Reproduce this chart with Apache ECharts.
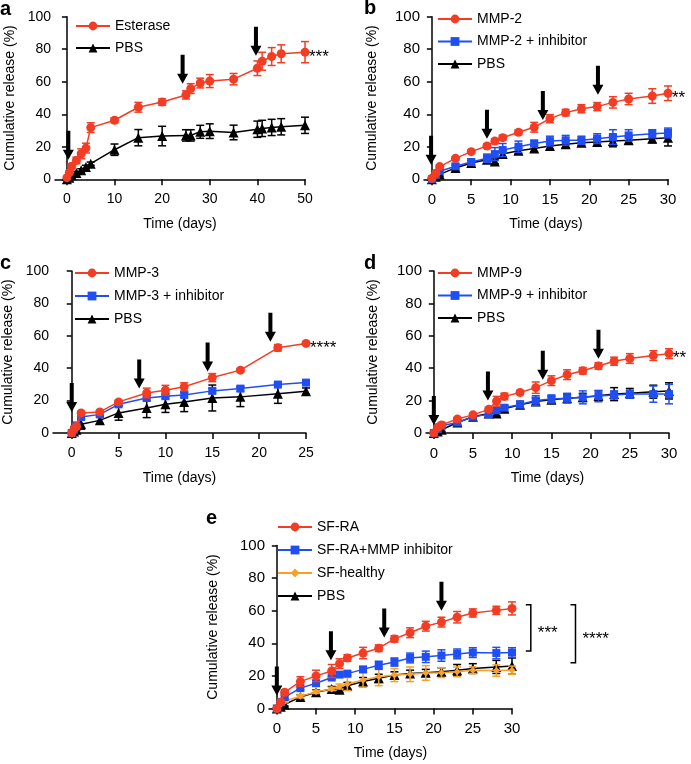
<!DOCTYPE html>
<html><head><meta charset="utf-8">
<script src="https://cdn.jsdelivr.net/npm/echarts@6/dist/echarts.min.js"></script>
<style>html,body{margin:0;padding:0;background:#fff}#c{width:691px;height:764px}</style>
</head><body><div id="c"></div><script>
// ---------- Panel a ----------
const timeA = [0, 0.5, 1, 2, 3, 4, 5, 10, 15, 20, 25, 26, 28, 30, 35, 40, 41, 43, 45, 50];
const esteraseA = [1, 4, 8, 11.6, 15.7, 19.2, 31.8, 36.3, 44.3, 47.5, 51.9, 55.8, 59.2, 60.4, 61.6, 68.3, 72.6, 75.5, 77.2, 78.2];
const esteraseErrA = [0.5, 1, 1.5, 2, 3, 3, 3, 1.5, 3, 2, 2.5, 3, 3, 4, 3.5, 4.5, 5.5, 5.5, 5.5, 6.5];
const pbsA = [0, 1, 2.5, 3.8, 5.5, 7.6, 9.6, 18.2, 25.6, 26.6, 27, 27, 29.2, 29.6, 28.8, 30.8, 31.3, 31.9, 32.3, 33.2];
const pbsErrA = [0.3, 0.5, 0.8, 1, 1, 1, 1, 3.5, 5, 6, 3.5, 3.5, 4, 4.5, 4.5, 5, 5, 5, 5, 5];
const arrowsA = [[0.3, 12], [24.3, 58.7], [39.7, 76]];
const ticksA = [0, 10, 20, 30, 40, 50];
const sigA = '***';

// ---------- Panel b ----------
const timeB = [0, 0.5, 1, 3, 5, 7, 8, 9, 11, 13, 15, 17, 19, 21, 23, 25, 28, 30];
const mmp2B = [0.6, 3.7, 7.8, 12.9, 17, 20.5, 23.5, 25.6, 28.9, 32, 37.3, 41, 43.4, 44.7, 47.3, 49.4, 51.2, 52.9];
const mmp2ErrB = [0.5, 0.8, 1, 1, 1, 1.2, 1.5, 1.5, 1.5, 3, 2.5, 2, 2.5, 2.5, 3.5, 3.5, 4.5, 4.5];
const mmp2InhB = [0, 2.5, 5, 8, 10.6, 13, 15.5, 18, 20, 22, 23.5, 24, 24, 25, 26, 27, 28, 28.5];
const mmp2InhErrB = [0.5, 1, 1, 1.5, 2, 2.5, 4, 4, 3.5, 2, 3, 3, 2.5, 3, 4.5, 3.5, 2.5, 3];
const pbsB = [0, 1.5, 3, 7, 10, 12, 11, 15.5, 17.5, 19, 20.5, 21.5, 22.5, 23, 23.5, 24, 25, 25.5];
const pbsErrB = [0.5, 1, 1, 1.5, 1.5, 1.5, 1.5, 2, 2, 2, 2, 2, 2, 2.5, 3.5, 2, 2.5, 5];
const arrowsB = [[-0.1, 9], [7, 25], [14.1, 36.5], [21.1, 52]];
const ticksB = [0, 5, 10, 15, 20, 25, 30];
const sigB = '**';

// ---------- Panel c ----------
const timeC = [0, 0.25, 0.5, 1, 3, 5, 8, 10, 12, 15, 18, 22, 25];
const mmp3C = [0, 2.7, 4, 12.4, 13, 19.2, 24.7, 26.4, 28.5, 34.2, 38.8, 52.6, 55.3];
const mmp3ErrC = [0.3, 0.5, 0.5, 1, 1, 1, 3, 3, 2.5, 2.5, 1, 2, 0.5];
const mmp3InhC = [0, 2, 4.7, 9.9, 11.5, 17.7, 21.6, 22.7, 23.5, 26, 27.4, 29.9, 31.1];
const mmp3InhErrC = [0.3, 0.5, 0.8, 1, 1, 1, 1.5, 1.5, 1.5, 1.5, 1.5, 1, 1];
const pbsC = [0, 1, 2, 5.4, 7.8, 12.4, 15.5, 17.7, 19.2, 21.6, 22.3, 24.3, 25.8];
const pbsErrC = [0.3, 0.5, 0.5, 3, 2, 4.5, 6, 5, 6, 8, 6, 6, 2];
const arrowsC = [[0, 13], [7.2, 27.4], [14.5, 38], [21.2, 56.3]];
const ticksC = [0, 5, 10, 15, 20, 25];
const sigC = '****';

// ---------- Panel d ----------
const timeD = [0, 0.5, 1, 3, 5, 7, 8, 9, 11, 13, 15, 17, 19, 21, 23, 25, 28, 30];
const mmp9D = [0, 3.5, 5, 8.6, 11.2, 14.6, 19.6, 22.6, 25, 28, 32.3, 36, 38.4, 41.4, 44.3, 46, 47.8, 49];
const mmp9ErrD = [0.3, 0.5, 1, 1, 1, 1, 3, 2, 1, 3.5, 3, 3, 2, 2, 2.5, 3, 3, 3];
const mmp9InhD = [0, 2.5, 4.5, 6.5, 10, 11.5, 14, 15.6, 17.6, 20, 21, 21.5, 22, 22.8, 23.5, 24, 24, 24];
const mmp9InhErrD = [0.3, 0.5, 1, 1.5, 1.5, 1.5, 1.5, 1.5, 2, 3, 2.5, 3, 4, 3.5, 2.5, 2.5, 5, 6];
const pbsD = [0, 1, 2, 6.5, 10, 12, 12, 15, 17.5, 19.5, 20.5, 21.5, 22, 23, 24, 24.5, 25.5, 26];
const pbsErrD = [0.3, 0.5, 1, 1.5, 1.5, 1.5, 1.5, 2, 2, 2, 2, 2.5, 2.5, 3, 4, 3, 4, 5];
const arrowsD = [[0, 5], [6.9, 20], [13.9, 32.9], [21, 45.8]];
const ticksD = [0, 5, 10, 15, 20, 25, 30];
const sigD = '**';

// ---------- Panel e ----------
const timeE = [0, 0.5, 1, 3, 5, 7, 8, 9, 11, 13, 15, 17, 19, 21, 23, 25, 28, 30];
const sfRaE = [0, 4, 10, 16.5, 20, 23, 27.5, 31, 34, 37, 42.7, 46.5, 50.5, 53, 56, 58.6, 60.2, 61.4];
const sfRaErrE = [0.3, 1, 1.5, 3, 3.5, 4, 3, 2, 3.5, 2, 2, 3, 3, 3, 3.5, 2.5, 2.5, 4];
const sfRaInhE = [0, 4, 7, 12.5, 15.5, 19, 20.8, 21.4, 24, 26.5, 28.5, 31, 31.7, 32.5, 33.5, 34.3, 34, 34.3];
const sfRaInhErrE = [0.3, 0.5, 1, 1, 1, 1, 1.2, 1.2, 1.5, 2.5, 2.5, 3, 3.5, 3.5, 3, 3, 3.5, 3];
const sfHealthyE = [0, 2.5, 4.5, 7.5, 10.2, 12, 13.5, 15, 17.5, 19.5, 20.5, 21, 21.8, 22, 22.5, 23.5, 23.3, 23.5];
const sfHealthyErrE = [0.3, 0.5, 1, 1, 1, 1, 1.5, 4, 4.5, 5.5, 4, 4.5, 4.5, 3, 3, 2, 3.5, 2.5];
const pbsE = [0, 1, 2.5, 7, 10, 12, 11.5, 14, 16.5, 18.5, 20.5, 21.5, 22, 22.5, 23.5, 24.5, 25.5, 26];
const pbsErrE = [0.3, 0.5, 1, 1.5, 1.5, 1.5, 1.5, 2, 2.5, 2.5, 2, 2, 2, 2.5, 3.5, 3, 4, 5];
const arrowsE = [[0, 8], [6.9, 29.6], [13.7, 43.5], [21, 60]];
const ticksE = [0, 5, 10, 15, 20, 25, 30];
const bracketsE = [[32.4, 63.6, 35.2], [38.1, 63.6, 28]];
const bracketSigE = ['***', '****'];

// ---------- styling ----------
const FONT = 'Liberation Sans, Arial, Helvetica, sans-serif';
const RED = '#f23d24', BLUE = '#1f4ef2', ORANGE = '#f7a12a', BLACK = '#000000';

const grids = [
  {left: 55, top: 16.7, width: 250, height: 162.6},
  {left: 424, top: 16.7, width: 244, height: 162.6},
  {left: 53, top: 271, width: 253, height: 162},
  {left: 426, top: 271, width: 243, height: 162},
  {left: 269, top: 545.5, width: 243, height: 163}
];
const xMins = [-2.5, -1, -2, -1, -1];
const xMaxs = [50, 30, 25, 30, 30];
const xTicks = [ticksA, ticksB, ticksC, ticksD, ticksE];
const yNameGaps = [38, 45, 38, 46, 49];
const labelSizes = [14, 15, 14, 15, 15];

const xAxes = grids.map((g, i) => {
  const dataCenterShift = ((xMins[i] + xMaxs[i]) / 2 - xMins[i]) / (xMaxs[i] - xMins[i]) * g.width - g.width / 2;
  return {
    type: 'value', gridIndex: i, min: xMins[i], max: xMaxs[i],
    axisLine: {show: true, onZero: false, lineStyle: {color: '#000', width: 1.5}},
    axisTick: {show: true, customValues: xTicks[i], length: 6, lineStyle: {color: '#000', width: 1.5}},
    axisLabel: {customValues: xTicks[i], fontSize: labelSizes[i], color: '#000', margin: 13, fontFamily: FONT},
    splitLine: {show: false},
    name: 'Time (days)', nameLocation: 'middle', nameGap: 38,
    nameTextStyle: {fontSize: 14, color: '#000', fontFamily: FONT, padding: [0, 0, 0, Math.max(0, 2 * dataCenterShift)]}
  };
});
const yAxes = grids.map((g, i) => ({
  type: 'value', gridIndex: i, min: 0, max: 100, interval: 20,
  axisLine: {show: true, lineStyle: {color: '#000', width: 1.5}},
  axisTick: {show: true, length: 5, lineStyle: {color: '#000', width: 1.5}},
  axisLabel: {fontSize: labelSizes[i], color: '#000', margin: 4, fontFamily: FONT},
  splitLine: {show: false},
  name: 'Cumulative release (%)', nameLocation: 'middle', nameGap: yNameGaps[i],
  nameTextStyle: {fontSize: 14, color: '#000', fontFamily: FONT}
}));

function lineS(name, gi, times, vals, color, symbol, size, z, sig) {
  const s = {
    type: 'line', name, xAxisIndex: gi, yAxisIndex: gi,
    data: times.map((t, k) => [t, vals[k]]),
    symbol, symbolSize: size, showSymbol: true,
    itemStyle: {color}, lineStyle: {color, width: 1.5}, z
  };
  if (sig) {
    s.endLabel = {show: true, formatter: sig, color: '#000', fontSize: 17, fontFamily: FONT, distance: 4, offset: [0, 5]};
  }
  return s;
}
function errS(gi, times, vals, errs, color, z) {
  return {
    type: 'custom', xAxisIndex: gi, yAxisIndex: gi, z, silent: true,
    data: times.map((t, k) => [t, Math.max(0, vals[k] - errs[k]), vals[k] + errs[k]]),
    renderItem: (params, api) => {
      const lo = api.coord([api.value(0), api.value(1)]);
      const hi = api.coord([api.value(0), api.value(2)]);
      const w = 4;
      const st = {stroke: color, lineWidth: 1.5, fill: null};
      return {type: 'group', children: [
        {type: 'line', shape: {x1: lo[0], y1: lo[1], x2: hi[0], y2: hi[1]}, style: st},
        {type: 'line', shape: {x1: lo[0] - w, y1: lo[1], x2: lo[0] + w, y2: lo[1]}, style: st},
        {type: 'line', shape: {x1: hi[0] - w, y1: hi[1], x2: hi[0] + w, y2: hi[1]}, style: st}
      ]};
    }
  };
}
function arrowS(gi, arrows) {
  return {
    type: 'custom', xAxisIndex: gi, yAxisIndex: gi, z: 10, silent: true, clip: false,
    data: arrows,
    renderItem: (params, api) => {
      const p = api.coord([api.value(0), api.value(1)]);
      const hw = 5.5, sw = 2, hh = 10, L = 29;
      return {type: 'polygon', shape: {points: [
        [p[0], p[1]], [p[0] - hw, p[1] - hh], [p[0] - sw, p[1] - hh], [p[0] - sw, p[1] - L],
        [p[0] + sw, p[1] - L], [p[0] + sw, p[1] - hh], [p[0] + hw, p[1] - hh]
      ]}, style: {fill: '#000'}};
    }
  };
}
function bracketS(gi, brackets, sigs) {
  return {
    type: 'custom', xAxisIndex: gi, yAxisIndex: gi, z: 10, silent: true, clip: false,
    data: brackets,
    renderItem: (params, api) => {
      const t = api.coord([api.value(0), api.value(1)]);
      const b = api.coord([api.value(0), api.value(2)]);
      return {type: 'group', children: [
        {type: 'polyline', shape: {points: [[t[0] - 5, t[1]], [t[0], t[1]], [b[0], b[1]], [b[0] - 5, b[1]]]},
         style: {stroke: '#000', lineWidth: 1.5, fill: null}},
        {type: 'text', x: t[0] + 7, y: (t[1] + b[1]) / 2 + 5,
         style: {text: sigs[params.dataIndex], fill: '#000', font: '17px ' + FONT, verticalAlign: 'middle', align: 'left'}}
      ]};
    }
  };
}

const series = [
  // a
  errS(0, timeA, pbsA, pbsErrA, BLACK, 2), lineS('PBS', 0, timeA, pbsA, BLACK, 'triangle', 10, 3),
  errS(0, timeA, esteraseA, esteraseErrA, RED, 4), lineS('Esterase', 0, timeA, esteraseA, RED, 'circle', 9, 5, sigA),
  arrowS(0, arrowsA),
  // b
  errS(1, timeB, pbsB, pbsErrB, BLACK, 2), lineS('PBS', 1, timeB, pbsB, BLACK, 'triangle', 10, 3),
  errS(1, timeB, mmp2InhB, mmp2InhErrB, BLUE, 4), lineS('MMP-2 + inhibitor', 1, timeB, mmp2InhB, BLUE, 'rect', 8, 5),
  errS(1, timeB, mmp2B, mmp2ErrB, RED, 6), lineS('MMP-2', 1, timeB, mmp2B, RED, 'circle', 9, 7, sigB),
  arrowS(1, arrowsB),
  // c
  errS(2, timeC, pbsC, pbsErrC, BLACK, 2), lineS('PBS', 2, timeC, pbsC, BLACK, 'triangle', 10, 3),
  errS(2, timeC, mmp3InhC, mmp3InhErrC, BLUE, 4), lineS('MMP-3 + inhibitor', 2, timeC, mmp3InhC, BLUE, 'rect', 8, 5),
  errS(2, timeC, mmp3C, mmp3ErrC, RED, 6), lineS('MMP-3', 2, timeC, mmp3C, RED, 'circle', 9, 7, sigC),
  arrowS(2, arrowsC),
  // d
  errS(3, timeD, pbsD, pbsErrD, BLACK, 2), lineS('PBS', 3, timeD, pbsD, BLACK, 'triangle', 10, 3),
  errS(3, timeD, mmp9InhD, mmp9InhErrD, BLUE, 4), lineS('MMP-9 + inhibitor', 3, timeD, mmp9InhD, BLUE, 'rect', 8, 5),
  errS(3, timeD, mmp9D, mmp9ErrD, RED, 6), lineS('MMP-9', 3, timeD, mmp9D, RED, 'circle', 9, 7, sigD),
  arrowS(3, arrowsD),
  // e
  errS(4, timeE, pbsE, pbsErrE, BLACK, 2), lineS('PBS', 4, timeE, pbsE, BLACK, 'triangle', 10, 3),
  errS(4, timeE, sfHealthyE, sfHealthyErrE, ORANGE, 4), lineS('SF-healthy', 4, timeE, sfHealthyE, ORANGE, 'diamond', 7, 5),
  errS(4, timeE, sfRaInhE, sfRaInhErrE, BLUE, 6), lineS('SF-RA+MMP inhibitor', 4, timeE, sfRaInhE, BLUE, 'rect', 8, 7),
  errS(4, timeE, sfRaE, sfRaErrE, RED, 8), lineS('SF-RA', 4, timeE, sfRaE, RED, 'circle', 9, 9),
  arrowS(4, arrowsE),
  bracketS(4, bracketsE, bracketSigE)
];

function legendAt(left, top, gap, names) {
  return {orient: 'vertical', left, top, itemGap: gap, itemWidth: 34, itemHeight: 11,
    selectedMode: false, data: names, padding: 0,
    textStyle: {fontSize: 14, color: '#000', fontFamily: FONT}};
}
const legends = [
  legendAt(75, 19, 8, ['Esterase', 'PBS']),
  legendAt(437, 12, 8.5, ['MMP-2', 'MMP-2 + inhibitor', 'PBS']),
  legendAt(74, 266, 9, ['MMP-3', 'MMP-3 + inhibitor', 'PBS']),
  legendAt(437, 266, 8.5, ['MMP-9', 'MMP-9 + inhibitor', 'PBS']),
  legendAt(277, 520, 9, ['SF-RA', 'SF-RA+MMP inhibitor', 'SF-healthy', 'PBS'])
];

const panelLetter = (txt, x, y) => ({type: 'text', left: x, top: y,
  style: {text: txt, font: 'bold 20px ' + FONT, fill: '#000'}});

const chart = echarts.init(document.getElementById('c'), null, {renderer: 'canvas'});
chart.setOption({
  animation: false,
  backgroundColor: '#fff',
  grid: grids,
  xAxis: xAxes,
  yAxis: yAxes,
  legend: legends,
  series,
  graphic: [
    panelLetter('a', 0, -1), panelLetter('b', 364, -2),
    panelLetter('c', 0, 253), panelLetter('d', 364, 253), panelLetter('e', 206, 508)
  ]
});
</script></body></html>
